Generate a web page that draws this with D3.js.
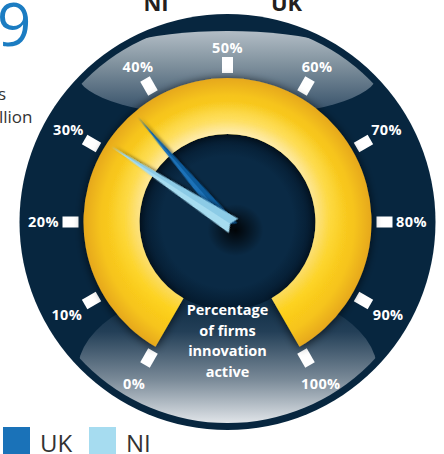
<!DOCTYPE html>
<html>
<head>
<meta charset="utf-8">
<script src="https://cdn.jsdelivr.net/npm/d3@7"></script>
<style>
  html, body { margin: 0; padding: 0; background: #fff; overflow: hidden; }
  svg { display: block; font-family: "Open Sans", "Noto Sans", sans-serif; }
</style>
</head>
<body>
<svg id="chart" width="444" height="454"></svg>
<script>
// Gauge readings: share of firms that are innovation active (%)
const series = ["UK", "NI"];
const values = [36.5, 31];
const seriesColors = ["#1a72b8", "#a6dcf0"];
const seriesShade = ["#0f5c9c", "#8ccbe6"];

// Dial scale
const tickValues = [0, 10, 20, 30, 40, 50, 60, 70, 80, 90, 100];
const tickLabels = ["0%", "10%", "20%", "30%", "40%", "50%", "60%", "70%", "80%", "90%", "100%"];
const centerLines = ["Percentage", "of firms", "innovation", "active"];

const svg = d3.select("#chart");
const defs = svg.append("defs");

const cx = 227.5, cy = 222;
const R = 208;
const ringInner = 88, ringOuter = 144;
const needleLen = 138;

// value -> angle in degrees, measured clockwise from 12 o'clock
const angle = d3.scaleLinear().domain([0, 100]).range([-150, 150]);
const rad = d => d * Math.PI / 180;
const polar = (deg, r) => [cx + r * Math.sin(rad(deg)), cy - r * Math.cos(rad(deg))];

// ---------- gradients & filters ----------
const topGrad = defs.append("linearGradient").attr("id", "topGlass")
  .attr("gradientUnits", "userSpaceOnUse").attr("x1", 0).attr("y1", 18).attr("x2", 0).attr("y2", 118);
topGrad.append("stop").attr("offset", 0).attr("stop-color", "#c6ced5");
topGrad.append("stop").attr("offset", 0.45).attr("stop-color", "#82939f");
topGrad.append("stop").attr("offset", 1).attr("stop-color", "#2c4862");

const botGrad = defs.append("linearGradient").attr("id", "botGlass")
  .attr("gradientUnits", "userSpaceOnUse").attr("x1", 0).attr("y1", 290).attr("x2", 0).attr("y2", 428);
botGrad.append("stop").attr("offset", 0).attr("stop-color", "#07263f");
botGrad.append("stop").attr("offset", 0.3).attr("stop-color", "#233f57");
botGrad.append("stop").attr("offset", 0.65).attr("stop-color", "#7a8a98");
botGrad.append("stop").attr("offset", 1).attr("stop-color", "#eceff2");

// ring gradients live in the ring's own (translated) coordinates
const ringGrad = defs.append("radialGradient").attr("id", "ringFill")
  .attr("gradientUnits", "userSpaceOnUse").attr("cx", 0).attr("cy", 0).attr("r", ringOuter);
ringGrad.append("stop").attr("offset", 0.6).attr("stop-color", "#fad64a");
ringGrad.append("stop").attr("offset", 0.72).attr("stop-color", "#fdd117");
ringGrad.append("stop").attr("offset", 0.88).attr("stop-color", "#f6c41b");
ringGrad.append("stop").attr("offset", 1).attr("stop-color", "#e6a81f");

const glowGrad = defs.append("radialGradient").attr("id", "ringGlow")
  .attr("gradientUnits", "userSpaceOnUse").attr("cx", 0).attr("cy", 0).attr("r", ringOuter);
glowGrad.append("stop").attr("offset", 0.6).attr("stop-color", "#fff6dc").attr("stop-opacity", 0.85);
glowGrad.append("stop").attr("offset", 0.7).attr("stop-color", "#fff2c8").attr("stop-opacity", 0.45);
glowGrad.append("stop").attr("offset", 0.84).attr("stop-color", "#fff").attr("stop-opacity", 0);

const glowMaskGrad = defs.append("linearGradient").attr("id", "glowMaskGrad")
  .attr("gradientUnits", "userSpaceOnUse").attr("x1", 0).attr("y1", 110).attr("x2", 0).attr("y2", 340);
glowMaskGrad.append("stop").attr("offset", 0).attr("stop-color", "#fff");
glowMaskGrad.append("stop").attr("offset", 1).attr("stop-color", "#000");
defs.append("mask").attr("id", "glowMask")
  .attr("maskUnits", "userSpaceOnUse").attr("x", 0).attr("y", 0).attr("width", 444).attr("height", 454)
  .append("rect").attr("x", 0).attr("y", 0).attr("width", 444).attr("height", 454)
  .attr("fill", "url(#glowMaskGrad)");

const innerGrad = defs.append("radialGradient").attr("id", "innerFill")
  .attr("gradientUnits", "userSpaceOnUse").attr("cx", cx).attr("cy", cy).attr("r", ringInner);
innerGrad.append("stop").attr("offset", 0.75).attr("stop-color", "#0a2a45");
innerGrad.append("stop").attr("offset", 1).attr("stop-color", "#041a2e");

const pivotGrad = defs.append("radialGradient").attr("id", "pivotShadow");
pivotGrad.append("stop").attr("offset", 0).attr("stop-color", "#000").attr("stop-opacity", 0.9);
pivotGrad.append("stop").attr("offset", 1).attr("stop-color", "#000").attr("stop-opacity", 0);

const shadow = defs.append("filter").attr("id", "ringShadow")
  .attr("x", "-20%").attr("y", "-20%").attr("width", "140%").attr("height", "140%");
shadow.append("feDropShadow").attr("dx", 0).attr("dy", 1).attr("stdDeviation", 5)
  .attr("flood-color", "#000").attr("flood-opacity", 0.75);

const needleShadow = defs.append("filter").attr("id", "needleShadow")
  .attr("x", "-30%").attr("y", "-30%").attr("width", "160%").attr("height", "160%");
needleShadow.append("feDropShadow").attr("dx", 1.5).attr("dy", 2).attr("stdDeviation", 1.5)
  .attr("flood-color", "#000").attr("flood-opacity", 0.5);

defs.append("clipPath").attr("id", "faceClip")
  .append("circle").attr("cx", cx).attr("cy", cy).attr("r", R - 7);

// ---------- surrounding text ----------
svg.append("text").attr("x", -3).attr("y", 46)
  .attr("font-size", 60).attr("font-weight", 400).attr("fill", "#1b7cc2").text("9");
svg.append("text").attr("x", -2).attr("y", 100)
  .attr("font-size", 17).attr("fill", "#333").text("s");
svg.append("text").attr("x", -1).attr("y", 123)
  .attr("font-size", 17).attr("fill", "#333").text("llion");

const headerX = [286.5, 156];
svg.selectAll("text.header").data(series).join("text")
  .attr("class", "header")
  .attr("x", (d, i) => headerX[i]).attr("y", 11)
  .attr("text-anchor", "middle")
  .attr("font-size", 22).attr("font-weight", 700).attr("fill", "#231f20")
  .text(d => d);

// ---------- dial face ----------
svg.append("circle").attr("cx", cx).attr("cy", cy).attr("r", R).attr("fill", "#07263f");

const face = svg.append("g").attr("clip-path", "url(#faceClip)");
face.append("ellipse").attr("cx", cx).attr("cy", 74).attr("rx", 150).attr("ry", 43)
  .attr("fill", "url(#topGlass)");
face.append("ellipse").attr("cx", cx).attr("cy", 372).attr("rx", 150).attr("ry", 86)
  .attr("fill", "url(#botGlass)");

// tick marks
svg.selectAll("rect.tick").data(tickValues).join("rect")
  .attr("class", "tick")
  .attr("x", -5.5).attr("y", -8).attr("width", 11).attr("height", 16)
  .attr("fill", "#fff")
  .attr("transform", d => {
    const [x, y] = polar(angle(d), 157);
    return `translate(${x},${y}) rotate(${angle(d)})`;
  });

// tick labels
const labelRadius = a => {
  const c = Math.cos(rad(a));
  return 184 - 10 * Math.pow(Math.max(c, 0), 5) + 3 * Math.max(-c, 0);
};
svg.selectAll("text.tickLabel").data(tickValues).join("text")
  .attr("class", "tickLabel")
  .attr("x", d => polar(angle(d), labelRadius(angle(d)))[0])
  .attr("y", d => polar(angle(d), labelRadius(angle(d)))[1])
  .attr("dy", "0.36em")
  .attr("text-anchor", "middle")
  .attr("font-size", 14.5).attr("font-weight", 700).attr("letter-spacing", 0.4).attr("fill", "#fff")
  .text((d, i) => tickLabels[i]);

// inner dark disc
svg.append("circle").attr("cx", cx).attr("cy", cy).attr("r", ringInner).attr("fill", "url(#innerFill)");

// yellow scale ring
const ringArc = d3.arc()
  .innerRadius(ringInner).outerRadius(ringOuter)
  .startAngle(rad(angle(0))).endAngle(rad(angle(100)));
svg.append("g").attr("transform", `translate(${cx},${cy})`)
  .append("path").attr("d", ringArc()).attr("fill", "url(#ringFill)").attr("filter", "url(#ringShadow)");
svg.append("g").attr("mask", "url(#glowMask)")
  .append("path").attr("transform", `translate(${cx},${cy})`)
  .attr("d", ringArc())
  .attr("fill", "url(#ringGlow)");

// centre caption
svg.selectAll("text.caption").data(centerLines).join("text")
  .attr("class", "caption")
  .attr("x", cx).attr("y", (d, i) => 315 + i * 20.6)
  .attr("text-anchor", "middle")
  .attr("font-size", 14.5).attr("font-weight", 700).attr("fill", "#fff")
  .text(d => d);

// shadow under the pivot
svg.append("ellipse").attr("cx", cx + 8).attr("cy", cy + 8).attr("rx", 28).attr("ry", 26)
  .attr("fill", "url(#pivotShadow)");

// needles (UK behind, NI in front)
const needleW = [13, 17];
const tail = 7, notch = 4;
const needles = svg.selectAll("g.needle").data(values).join("g")
  .attr("class", "needle")
  .attr("filter", "url(#needleShadow)")
  .attr("transform", d => `translate(${cx},${cy}) rotate(${angle(d)})`);
needles.append("path")
  .attr("d", (d, i) => `M0,${-needleLen} L${-needleW[i] / 2},${tail} L0,${tail - notch} Z`)
  .attr("fill", (d, i) => seriesColors[i]);
needles.append("path")
  .attr("d", (d, i) => `M0,${-needleLen} L${needleW[i] / 2},${tail} L0,${tail - notch} Z`)
  .attr("fill", (d, i) => seriesShade[i]);

// ---------- legend ----------
const legendX = [3, 89];
const legend = svg.selectAll("g.legend").data(series).join("g")
  .attr("class", "legend")
  .attr("transform", (d, i) => `translate(${legendX[i]},427)`);
legend.append("rect").attr("width", 27).attr("height", 27)
  .attr("fill", (d, i) => seriesColors[i]);
legend.append("text").attr("x", 37).attr("y", 25)
  .attr("font-size", 24).attr("fill", "#333")
  .text(d => d);
</script>
</body>
</html>
